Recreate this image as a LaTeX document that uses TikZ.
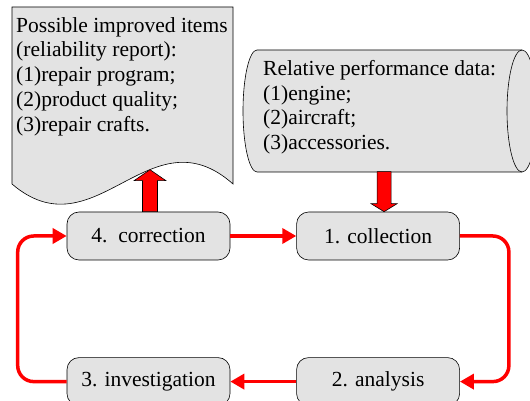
\documentclass[tikz,border=0pt]{standalone}
\usepackage{fontspec}
\setmainfont{Liberation Serif}
\usepackage{xcolor}
\usepackage{tikz}
\usetikzlibrary{positioning,arrows.meta}

\definecolor{boxgray}{gray}{0.89}

\begin{document}
\begin{tikzpicture}[
        x=1pt, y=1pt,
        font=\fontsize{21.5}{24.8}\selectfont,
        node distance=97pt and 66pt,
        stage/.style={draw, rounded corners=12pt, fill=boxgray, line width=0.6pt, minimum width=163pt, minimum height=48pt, inner sep=0pt},
        paper/.style={draw, fill=boxgray, line width=0.6pt},
        block/.style={draw, fill=red, line width=0.6pt},
        flow/.style={red, line width=3.5pt, rounded corners=16pt, -{Triangle[length=14pt,width=15pt]}},
        listing/.style={anchor=north west, align=left, inner sep=0pt},
    ]
        \useasboundingbox (0,0) rectangle (530,401);

        % the report sheet and the data store
        \draw[paper] (12,394) -- (233,394) -- (233,217) .. controls (150,291) and (95,146) .. (12,217) -- cycle;
        \node[listing] (report) at (16,384) {Possible improved items\\(reliability report):\\(1)repair program;\\(2)product quality;\\(3)repair crafts.};

        \draw[paper] (257,351) -- (522,351) arc[start angle=90, end angle=-90, x radius=15, y radius=61]
            -- (257,229) arc[start angle=270, end angle=90, x radius=14, y radius=61] -- cycle;
        \draw[line width=0.6pt] (522,351) arc[start angle=90, end angle=270, x radius=15, y radius=61];
        \node[listing] (data) at (263,341) {Relative performance data:\\(1)engine;\\(2)aircraft;\\(3)accessories.};

        % the four stages
        \node[stage] (corr) at (148.5,165) {4.\ \ correction};
        \node[stage, right=of corr] (coll) {1. collection};
        \node[stage, below=of coll] (anal) {2. analysis};
        \node[stage, below=of corr] (inv) {3. investigation};

        \draw[flow] (corr) -- (coll);
        \draw[flow] (coll.east) -- ++(49,0) |- (anal.east);
        \draw[flow] (anal) -- (inv);
        \draw[flow] (inv.west) -- ++(-49,0) |- (corr.west);

        % block arrows
        \draw[block] (coll.north) ++(6,0) -- ++(-13,8) -- ++(6,0) -- ++(0,32) -- ++(14,0) -- ++(0,-32) -- ++(6,0) -- cycle;
        \draw[block] (corr.north) ++(-6,0) -- ++(0,31) -- ++(-8.5,0) -- ++(16,11) -- ++(16,-11) -- ++(-8.5,0) -- ++(0,-31) -- cycle;
    \end{tikzpicture}
\end{document}
